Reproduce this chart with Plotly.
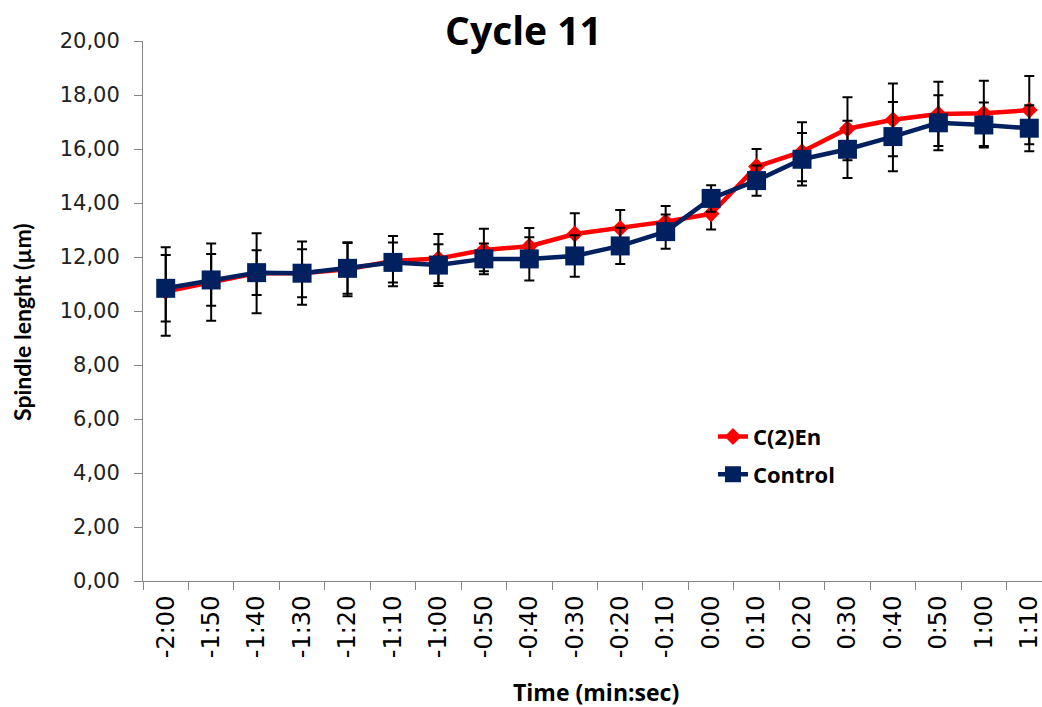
import plotly.graph_objects as go

time_labels = ["-2:00", "-1:50", "-1:40", "-1:30", "-1:20", "-1:10", "-1:00",
               "-0:50", "-0:40", "-0:30", "-0:20", "-0:10", "0:00", "0:10",
               "0:20", "0:30", "0:40", "0:50", "1:00", "1:10"]

c2en_mean = [10.72, 11.07, 11.40, 11.40, 11.55, 11.85, 11.94, 12.26, 12.40, 12.85,
             13.06, 13.31, 13.60, 15.35, 15.90, 16.75, 17.08, 17.30, 17.32, 17.44]
c2en_err = [1.64, 1.43, 1.48, 1.17, 1.00, 0.93, 0.91, 0.79, 0.67, 0.77,
            0.68, 0.58, 0.58, 0.65, 1.09, 1.17, 1.35, 1.19, 1.21, 1.26]

control_mean = [10.84, 11.15, 11.42, 11.40, 11.58, 11.80, 11.70, 11.93, 11.93, 12.04,
                12.41, 12.94, 14.17, 14.83, 15.62, 15.99, 16.46, 16.97, 16.89, 16.77]
control_err = [1.23, 0.96, 0.83, 0.89, 0.94, 0.74, 0.77, 0.57, 0.80, 0.77,
               0.67, 0.63, 0.49, 0.56, 0.97, 1.06, 1.28, 1.02, 0.83, 0.85]

RED = "#FF0000"
NAVY = "#002060"
AXIS = "#868686"
FONT_T = "DejaVu Sans"
FONT_H = "Open Sans"
FONT_V = "Lato"

fig = go.Figure()
fig.add_trace(go.Scatter(
    x=time_labels, y=c2en_mean, name="C(2)En", mode="lines+markers",
    legendgroup="a",
    line=dict(color=RED, width=4.5),
    marker=dict(symbol="diamond", size=13, color=RED),
    error_y=dict(type="data", array=c2en_err, visible=True, color="black",
                 thickness=2, width=5),
))
fig.add_trace(go.Scatter(
    x=time_labels, y=control_mean, name="Control", mode="lines+markers",
    legendgroup="b",
    line=dict(color=NAVY, width=4.5),
    marker=dict(symbol="square", size=19, color=NAVY),
    error_y=dict(type="data", array=control_err, visible=True, color="black",
                 thickness=2, width=5),
))

fig.update_layout(
    width=1042, height=707,
    margin=dict(l=143, r=0, t=41, b=126),
    paper_bgcolor="white", plot_bgcolor="white",
    separators=",.",
    showlegend=True,
    legend=dict(x=0.634, y=0.306, xanchor="left", yanchor="top",
                bgcolor="rgba(0,0,0,0)", tracegroupgap=6,
                font=dict(family=FONT_H, size=22, color="black", weight="bold")),
    title=dict(text="<b>Cycle 11</b>", x=523.5 / 1042, xref="container", xanchor="center",
               y=1 - 31 / 707, yref="container", yanchor="middle",
               font=dict(family=FONT_H, size=39, color="black")),
    xaxis=dict(
        type="category", range=[-0.5, 19.28],
        showline=True, linecolor=AXIS, linewidth=1,
        ticks="outside", tickson="boundaries", ticklen=8, tickcolor=AXIS,
        tickangle=-90, showgrid=False, zeroline=False, ticklabelstandoff=4,
        tickfont=dict(family=FONT_T, size=24, color="black"),
    ),
    yaxis=dict(
        range=[0, 20], dtick=2, tickformat=".2f",
        showline=True, linecolor=AXIS, linewidth=1,
        ticks="outside", ticklen=8, tickcolor=AXIS, ticklabelstandoff=10,
        showgrid=False, zeroline=False,
        tickfont=dict(family=FONT_T, size=21, color="#222222"),
    ),
    annotations=[
        dict(text="<b>Time (min:sec)</b>", xref="paper", yref="paper",
             x=(596 - 143) / 899, y=(581 - 692) / 540, xanchor="center", yanchor="middle",
             showarrow=False, font=dict(family=FONT_H, size=23, color="black")),
        dict(text="<b>Spindle lenght (µm)</b>", xref="paper", yref="paper",
             x=(22 - 143) / 899, y=(581 - 322) / 540, xanchor="center", yanchor="middle",
             textangle=-90, showarrow=False,
             font=dict(family=FONT_V, size=23, color="black")),
    ],
)

fig.write_html("out.html")
